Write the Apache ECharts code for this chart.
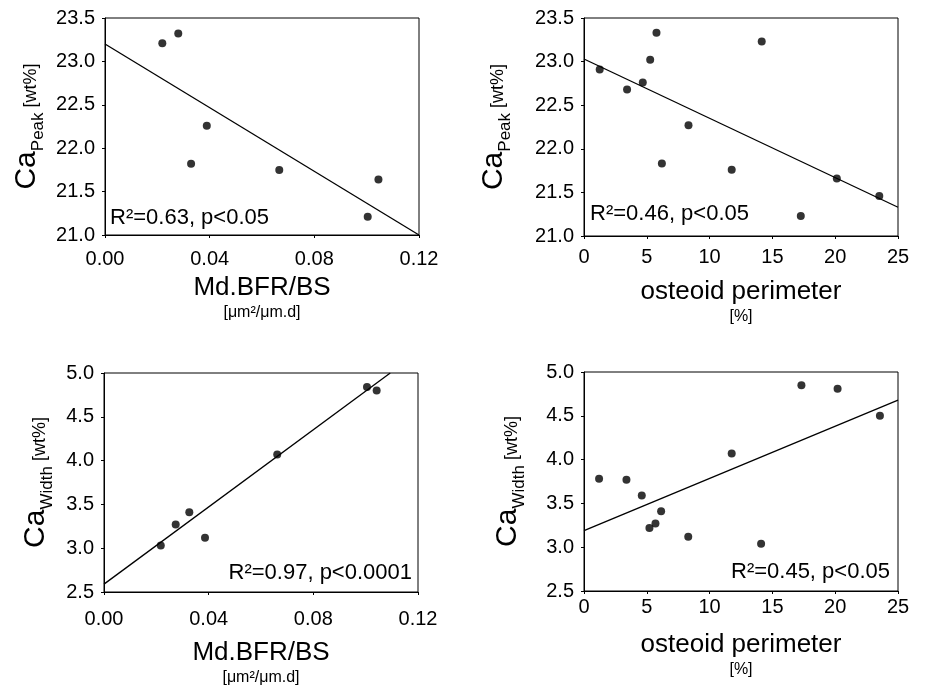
<!DOCTYPE html>
<html>
<head>
<meta charset="utf-8">
<script src="https://cdn.jsdelivr.net/npm/echarts@6/dist/echarts.min.js"></script>
<style>
html, body { margin: 0; padding: 0; background: #fff; }
#main { width: 925px; height: 690px; }
</style>
</head>
<body>
<div id="main"></div>
<script>
// measured points: Md.BFR/BS vs Ca peak / width
var bfrX = [0.0219, 0.0280, 0.0329, 0.0389, 0.0666, 0.1004, 0.1045];
var peakByBfr = [23.21, 23.32, 21.82, 22.26, 21.75, 21.21, 21.64];
var bfrX2 = [0.0217, 0.0274, 0.0326, 0.0386, 0.0662, 0.1005, 0.1042];
var widthByBfr = [3.03, 3.27, 3.41, 3.12, 4.07, 4.84, 4.80];

// osteoid perimeter vs Ca peak / width
var osteoidX = [1.25, 3.43, 4.68, 5.27, 5.77, 6.20, 8.32, 11.76, 14.15, 17.26, 20.13, 23.51];
var peakByOst = [22.91, 22.68, 22.76, 23.02, 23.33, 21.83, 22.27, 21.76, 23.23, 21.23, 21.66, 21.46];
var osteoidX2 = [1.20, 3.38, 4.60, 5.21, 5.69, 6.14, 8.30, 11.76, 14.10, 17.31, 20.19, 23.56];
var widthByOst = [3.78, 3.77, 3.59, 3.22, 3.27, 3.41, 3.12, 4.07, 3.04, 4.85, 4.81, 4.50];

// regression line end points
var fitPeakBfr = [[0, 23.2], [0.12, 21.0]];
var fitWidthBfr = [[0, 2.59], [0.1094, 5.0]];
var fitPeakOst = [[0, 23.03], [25, 21.33]];
var fitWidthOst = [[0, 3.19], [25, 4.68]];

var statTexts = ['R²=0.63, p<0.05', 'R²=0.46, p<0.05', 'R²=0.97, p<0.0001', 'R²=0.45, p<0.05'];

var font = 'Liberation Sans, Arial, sans-serif';

function pairs(xs, ys) {
	return xs.map(function (x, i) { return [x, ys[i]]; });
}

function xAxis(idx, min, max, step, digits, title, unit, margin, gap) {
	return {
		type: 'value', gridIndex: idx, min: min, max: max, interval: step,
		axisLine: { lineStyle: { color: '#000', width: 1 } },
		axisTick: { show: true, length: 3, lineStyle: { color: '#000' } },
		splitLine: { show: false },
		axisLabel: { color: '#000', fontSize: 20, fontFamily: font, margin: margin,
			formatter: function (v) { return v.toFixed(digits); } },
		name: '{a|' + title + '}\n{b|' + unit + '}',
		nameLocation: 'middle', nameGap: gap,
		nameTextStyle: {
			rich: {
				a: { fontSize: 26, fontFamily: font, color: '#000', lineHeight: 28 },
				b: { fontSize: 16, fontFamily: font, color: '#000', lineHeight: 22 }
			}
		}
	};
}

function yAxis(idx, min, max, sub, gap) {
	return {
		type: 'value', gridIndex: idx, min: min, max: max, interval: 0.5,
		axisLine: { lineStyle: { color: '#000', width: 1 } },
		axisTick: { show: true, length: 3, lineStyle: { color: '#000' } },
		splitLine: { show: false },
		axisLabel: { color: '#000', fontSize: 20, fontFamily: font, margin: 10,
			formatter: function (v) { return v.toFixed(1); } },
		name: '{ca|Ca}{sub|' + sub + '}{u| [wt%]}',
		nameLocation: 'middle', nameGap: gap, nameRotate: 90,
		nameTextStyle: {
			rich: {
				ca: { fontSize: 30, fontFamily: font, color: '#000', lineHeight: 40, verticalAlign: 'middle' },
				sub: { fontSize: 17, fontFamily: font, color: '#000', lineHeight: 40, verticalAlign: 'bottom' },
				u: { fontSize: 18, fontFamily: font, color: '#000', lineHeight: 40, verticalAlign: 'middle', padding: [8, 0, 0, 0] }
			}
		}
	};
}

function dots(idx, data) {
	return { type: 'scatter', xAxisIndex: idx, yAxisIndex: idx, data: data,
		symbol: 'circle', symbolSize: 8, itemStyle: { color: '#000' }, silent: true };
}

function fit(idx, data) {
	return { type: 'line', xAxisIndex: idx, yAxisIndex: idx, data: data,
		symbol: 'none', lineStyle: { color: '#000', width: 1.3 }, silent: true };
}

function stat(text, pos) {
	return { type: 'text', left: pos.left, right: pos.right, top: pos.top,
		style: { text: text, fontSize: 22, fontFamily: font, fill: '#000' } };
}

// fixed pixel boxes, no auto shrinking for labels
var gridStyle = { show: true, borderColor: '#000', borderWidth: 1, backgroundColor: 'transparent',
	containLabel: false, outerBoundsMode: 'none' };

var option = {
	animation: false,
	backgroundColor: '#fff',
	grid: [
		Object.assign({ left: 105, top: 18, width: 314, height: 217 }, gridStyle),
		Object.assign({ left: 584, top: 18, width: 314, height: 218 }, gridStyle),
		Object.assign({ left: 104, top: 373, width: 314, height: 219 }, gridStyle),
		Object.assign({ left: 584, top: 372, width: 314, height: 219 }, gridStyle)
	],
	xAxis: [
		xAxis(0, 0, 0.12, 0.04, 2, 'Md.BFR/BS', '[μm²/μm.d]', 14, 39),
		xAxis(1, 0, 25, 5, 0, 'osteoid perimeter', '[%]', 11, 42),
		xAxis(2, 0, 0.12, 0.04, 2, 'Md.BFR/BS', '[μm²/μm.d]', 17, 47),
		xAxis(3, 0, 25, 5, 0, 'osteoid perimeter', '[%]', 6, 40)
	],
	yAxis: [
		yAxis(0, 21, 23.5, 'Peak', 58),
		yAxis(1, 21, 23.5, 'Peak', 70),
		yAxis(2, 2.5, 5, 'Width', 48),
		yAxis(3, 2.5, 5, 'Width', 56)
	],
	series: [
		dots(0, pairs(bfrX, peakByBfr)), fit(0, fitPeakBfr),
		dots(1, pairs(osteoidX, peakByOst)), fit(1, fitPeakOst),
		dots(2, pairs(bfrX2, widthByBfr)), fit(2, fitWidthBfr),
		dots(3, pairs(osteoidX2, widthByOst)), fit(3, fitWidthOst)
	],
	graphic: [
		stat(statTexts[0], { left: 110, top: 207 }),
		stat(statTexts[1], { left: 590, top: 203 }),
		stat(statTexts[2], { right: 513, top: 562 }),
		stat(statTexts[3], { right: 35, top: 561 })
	]
};

var myChart = echarts.init(document.getElementById('main'));
myChart.setOption(option);
</script>
</body>
</html>
